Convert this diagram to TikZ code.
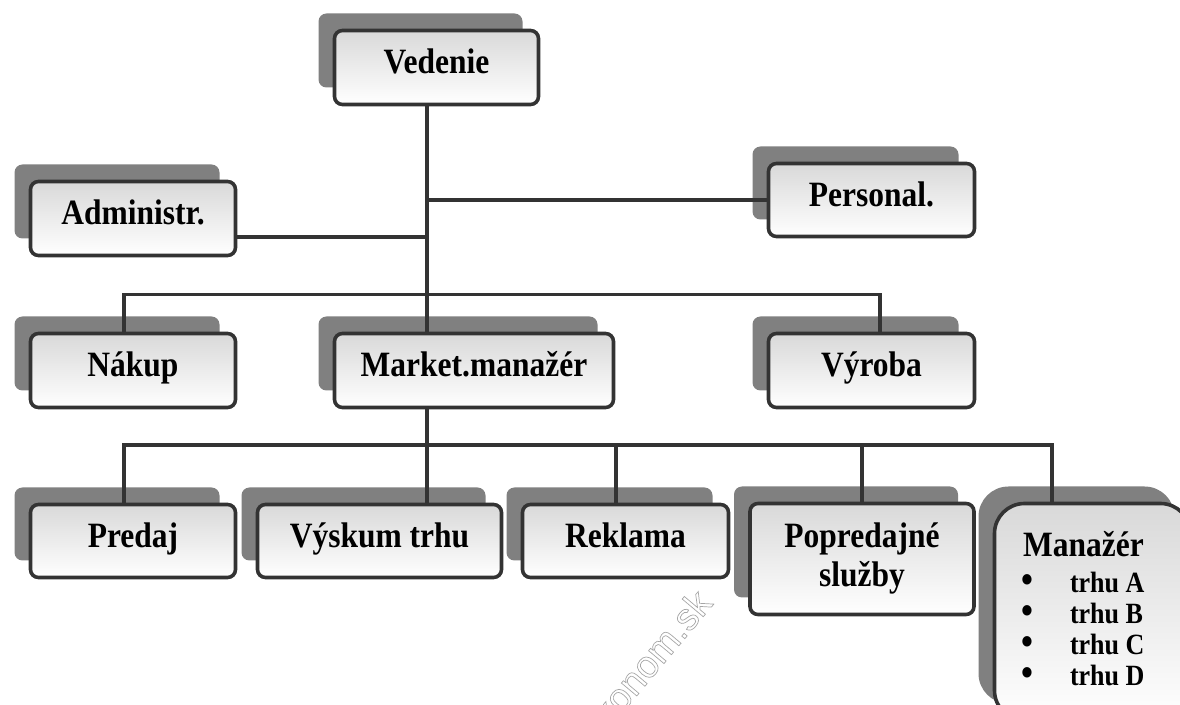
\documentclass[tikz,border=0pt]{standalone}
\usepackage{graphicx}
\usepackage{fontspec}
\setmainfont{Liberation Serif}
\newfontfamily\wmfont{Liberation Sans}
\usetikzlibrary{shadows,calc}

\tikzset{
  orgbox/.style={draw=black!80, line width=1.8pt, rounded corners=4pt,
    top color=black!15, bottom color=white, inner sep=0pt,
    font=\bfseries\fontsize{15.75}{17.3}\selectfont, align=center,
    drop shadow={shadow xshift=-8pt, shadow yshift=8.5pt, fill=black!50, opacity=1}},
  oneline/.style={orgbox, text height=10pt, text depth=3.5pt},
  wire/.style={draw=black!80, line width=1.8pt},
}
\newcommand\tall[1]{\scalebox{1}[1.13]{#1}}
\newcommand\bigdot{{\fontsize{17}{13.7}\selectfont\textbullet}}
\newcommand\hollow[1]{\special{pdf:literal direct 1 Tr 0.35 w}#1\special{pdf:literal direct 0 Tr}}

\begin{document}
\begin{tikzpicture}[x=0.5pt, y=-0.5pt]
\clip (0,0) rectangle (1180,705);
% watermark
\node[rotate=50, anchor=east, text=black!35, font=\wmfont\fontsize{19}{19}\selectfont] (wm) at (708,590) {\hollow{ekonom.sk}};
% top levels
\node[oneline, minimum width=102pt, minimum height=37pt] (vedenie) at (436.5,67.5) {\tall{Vedenie}};
\node[oneline, minimum width=102.5pt, minimum height=37pt] (admin) at (133,218.5) {\tall{Administr.}};
\node[oneline, minimum width=103pt, minimum height=36.5pt] (personal) at (871.5,200) {\tall{Personal.}};
\node[oneline, minimum width=102.5pt, minimum height=37pt] (nakup) at (133,370.5) {\tall{Nákup}};
\node[oneline, minimum width=139.5pt, minimum height=37pt] (market) at (474,370.5) {\tall{Market.manažér}};
\node[oneline, minimum width=103pt, minimum height=37pt] (vyroba) at (871.5,370.5) {\tall{Výroba}};
% bottom level
\node[oneline, minimum width=102.5pt, minimum height=36.5pt] (predaj) at (133,541) {\tall{Predaj}};
\node[oneline, minimum width=122pt, minimum height=36.5pt] (vyskum) at (379.5,541) {\tall{Výskum trhu}};
\node[oneline, minimum width=103pt, minimum height=36.5pt] (reklama) at (625.5,541) {\tall{Reklama}};
\node[orgbox, minimum width=112pt, minimum height=55.5pt] (popred) at (862,559) {\tall{\begin{tabular}{@{}c@{}}Popredajné\\služby\end{tabular}}};
\node[orgbox, rounded corners=15pt, minimum width=98pt, minimum height=108.5pt] (mgr) at (1092.5,612) {};
\node[anchor=north west, inner sep=0pt, font=\bfseries\fontsize{13}{13.7}\selectfont] (mgrlist)
  at ($(mgr.north west)+(28,29)$) {\tall{%
  \begin{tabular}{@{}l@{\hspace{18.5pt}}l@{}}
  \multicolumn{2}{@{}l@{}}{\fontsize{15.75}{16}\selectfont\hspace{1pt}Manažér}\\[2.3pt]
  \bigdot & trhu A\\
  \bigdot & trhu B\\
  \bigdot & trhu C\\
  \bigdot & trhu D
  \end{tabular}}};
% connectors
\coordinate (trunk) at (427,0);
\coordinate (admj) at ($(admin.east)+(0,18.5)$);
\coordinate (bus1l) at (124,294.5);
\coordinate (bus1r) at (880,294.5);
\coordinate (bus2l) at (124,445);
\coordinate (bus2r) at (1052,445);
\draw[wire] (vedenie.south -| trunk) -- (market.north -| trunk);
\draw[wire] (personal.west -| trunk) -- (personal.west);
\draw[wire] (admj) -- (admj -| trunk);
\draw[wire] (bus1l |- nakup.north) -- (bus1l) -- (bus1r) -- (bus1r |- vyroba.north);
\draw[wire] (market.south -| trunk) -- (bus2l -| trunk);
\draw[wire] (bus2l |- predaj.north) -- (bus2l) -- (bus2r) -- (bus2r |- mgr.north);
\foreach \n/\x in {vyskum/427, reklama/616, popred/862}
  \draw[wire] (\x,445) -- (\n.north -| \x,445);
\end{tikzpicture}
\end{document}
